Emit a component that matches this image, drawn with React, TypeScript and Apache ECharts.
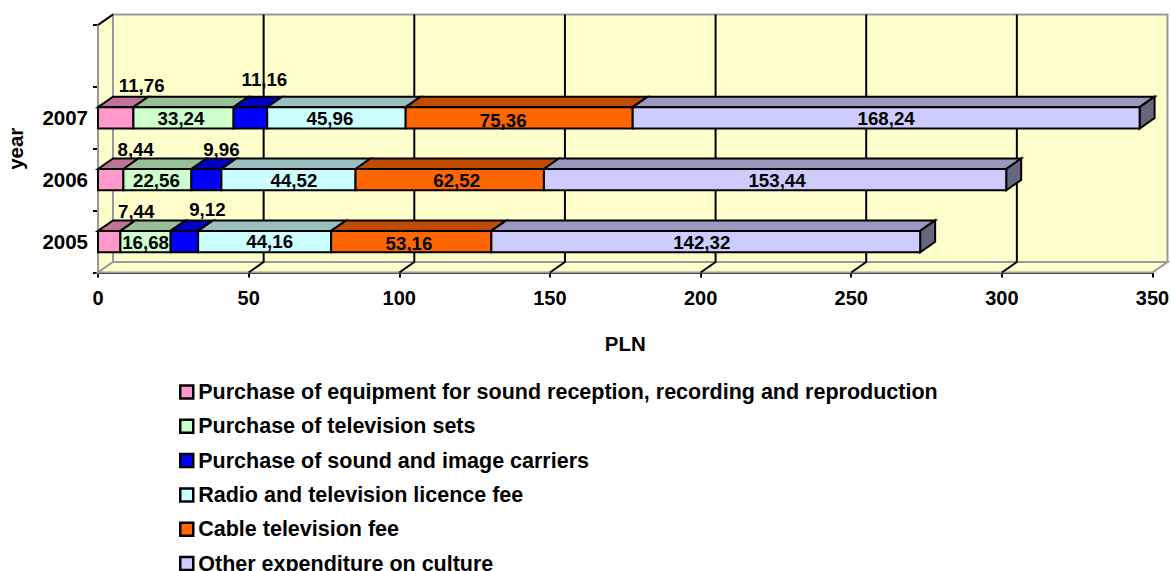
import React, { useEffect, useRef } from "react";
import * as echarts from "echarts";

const years = ["2005", "2006", "2007", ""];
const xTicks = [0, 50, 100, 150, 200, 250, 300, 350];
const seriesNames = [
  "Purchase of equipment for sound reception, recording and reproduction",
  "Purchase of television sets",
  "Purchase of sound and image carriers",
  "Radio and television licence fee",
  "Cable television fee",
  "Other expenditure on culture",
];
const equipment = [7.44, 8.44, 11.76];
const televisionSets = [16.68, 22.56, 33.24];
const carriers = [9.12, 9.96, 11.16];
const licenceFee = [44.16, 44.52, 45.96];
const cableFee = [53.16, 62.52, 75.36];
const otherCulture = [142.32, 153.44, 168.24];
const seriesValues = [equipment, televisionSets, carriers, licenceFee, cableFee, otherCulture];

const frontColors = ["#FF99CC", "#CCFFCC", "#0000FF", "#CCFFFF", "#FF6600", "#CCCCFF"];
const topColors = ["#BF7399", "#99BF99", "#0000BF", "#99BFBF", "#BF4C00", "#9999BF"];
const sideColor = "#66667F";

// hand-placed label nudges of the reference: "series-year" = [dx, dy]
const labelNudges: Record<string, [number, number]> = {
  "0-0": [27, -30],
  "0-1": [25, -30],
  "0-2": [26, -32],
  "1-0": [0, 1.3],
  "1-1": [-1, 1.2],
  "1-2": [-2.5, 0.8],
  "2-0": [23, -32],
  "2-1": [15, -30],
  "2-2": [14, -38],
  "3-0": [5, -0.5],
  "3-1": [5.5, 0.5],
  "3-2": [-6.5, 1.1],
  "4-0": [-2.3, 1.5],
  "4-1": [7, 0.9],
  "4-2": [-16, 3.1],
  "5-0": [-4, 1],
  "5-1": [2, 0.9],
  "5-2": [0, 1.1],
};

const DX = 15;
const DY = -10.5;
const FONT = '"Liberation Sans", Arial, sans-serif';
const LABEL_SIZE = 18.7;

export default function App() {
  const ref = useRef<HTMLDivElement>(null);
  useEffect(() => {
    document.body.style.margin = "0";
    const chart = echarts.init(ref.current!, undefined, { renderer: "svg" });

    const wallSeries = {
      type: "custom",
      name: "walls",
      silent: true,
      z: 1,
      data: [[0, 0]],
      renderItem: (params: any, api: any) => {
        const c = params.coordSys;
        const l = c.x, r = c.x + c.width, t = c.y, b = c.y + c.height;
        const children: any[] = [];
        const wallStyle = { fill: "#FFFFCC", stroke: "#999999", lineWidth: 2 };
        children.push({
          type: "polygon",
          shape: { points: [[l, t], [l + DX, t + DY], [l + DX, b + DY], [l, b]] },
          style: wallStyle,
        });
        children.push({
          type: "polygon",
          shape: { points: [[l, b], [l + DX, b + DY], [r + DX, b + DY], [r, b]] },
          style: wallStyle,
        });
        children.push({
          type: "rect",
          shape: { x: l + DX, y: t + DY, width: c.width, height: c.height },
          style: wallStyle,
        });
        children.push({
          type: "line",
          shape: { x1: l, y1: t, x2: l + DX, y2: t + DY },
          style: { stroke: "#000", lineWidth: 2 },
        });
        xTicks.forEach((v) => {
          if (v === 0 || v === 350) return;
          const x = api.coord([v, 0])[0];
          children.push({
            type: "polyline",
            shape: { points: [[x, b], [x + DX, b + DY], [x + DX, t + DY]] },
            style: { fill: "none", stroke: "#000", lineWidth: 2 },
          });
        });
        return { type: "group", children };
      },
    };

    const barSeries = seriesNames.map((name, si) => {
      const rows = years.slice(0, 3).map((_, yi) => {
        let start = 0;
        for (let k = 0; k < si; k++) start += seriesValues[k][yi];
        return [start, start + seriesValues[si][yi], yi, seriesValues[si][yi]];
      });
      return {
        type: "custom",
        name,
        z: 2,
        itemStyle: { color: frontColors[si] },
        encode: { x: [0, 1], y: 2 },
        data: rows,
        renderItem: (_params: any, api: any) => {
          const a = api.coord([api.value(0), api.value(2)]);
          const e = api.coord([api.value(1), api.value(2)]);
          const h = api.size([0, 1])[1] * 0.345;
          const top = a[1] - h / 2;
          const bot = a[1] + h / 2;
          const x0 = a[0];
          const x1 = e[0];
          const edge = { stroke: "#000", lineWidth: 2, lineJoin: "miter" };
          const children: any[] = [
            {
              type: "polygon",
              shape: { points: [[x0, top], [x0 + DX, top + DY], [x1 + DX, top + DY], [x1, top]] },
              style: { fill: topColors[si], ...edge },
            },
          ];
          if (si === seriesNames.length - 1) {
            children.push({
              type: "polygon",
              shape: { points: [[x1, top], [x1 + DX, top + DY], [x1 + DX, bot + DY], [x1, bot]] },
              style: { fill: sideColor, ...edge },
            });
          }
          children.push({
            type: "rect",
            shape: { x: x0, y: top, width: x1 - x0, height: bot - top },
            style: { fill: frontColors[si], ...edge },
          });
          const yi = api.value(2);
          const nudge = labelNudges[`${si}-${yi}`] || [0, 0];
          children.push({
            type: "text",
            z2: 100,
            style: {
              text: api.value(3).toFixed(2).replace(".", ","),
              x: (x0 + x1) / 2 + nudge[0],
              y: a[1] + nudge[1],
              align: "center",
              verticalAlign: "middle",
              fill: "#000",
              fontFamily: FONT,
              fontWeight: "bold",
              fontSize: LABEL_SIZE,
            },
          });
          return { type: "group", children };
        },
      };
    });

    chart.setOption({
      animation: false,
      backgroundColor: "#fff",
      textStyle: { fontFamily: FONT },
      grid: {
        left: 98,
        top: 25,
        width: 1054.5,
        height: 247.5,
        containLabel: false,
        outerBoundsMode: "none",
      },
      xAxis: {
        type: "value",
        min: 0,
        max: 350,
        interval: 50,
        name: "PLN",
        nameLocation: "middle",
        nameGap: 60,
        nameTextStyle: { fontFamily: FONT, fontWeight: "bold", fontSize: 20.5, color: "#000" },
        axisLine: { show: true, lineStyle: { color: "#000", width: 2 } },
        axisTick: { show: true, length: 5, lineStyle: { color: "#000", width: 2 } },
        axisLabel: {
          color: "#000",
          fontFamily: FONT,
          fontWeight: "bold",
          fontSize: 20,
          margin: 15,
          showMaxLabel: true,
          showMinLabel: true,
        },
        splitLine: { show: false },
      },
      yAxis: {
        type: "category",
        data: years,
        name: "year",
        nameLocation: "middle",
        nameGap: 72,
        nameRotate: 90,
        nameTextStyle: { fontFamily: FONT, fontWeight: "bold", fontSize: 20.5, color: "#000" },
        axisLine: { show: true, lineStyle: { color: "#000", width: 2 } },
        axisTick: { show: true, length: 5, lineStyle: { color: "#000", width: 2 } },
        axisLabel: {
          color: "#000",
          fontFamily: FONT,
          fontWeight: "bold",
          fontSize: 20.5,
          margin: 10,
          interval: 0,
        },
        splitLine: { show: false },
      },
      legend: {
        orient: "vertical",
        left: 174,
        top: 376,
        height: 300,
        data: seriesNames,
        icon: "rect",
        itemWidth: 13,
        itemHeight: 13,
        itemGap: 12.3,
        selectedMode: false,
        itemStyle: { borderColor: "#000", borderWidth: 2.5 },
        textStyle: {
          fontFamily: FONT,
          fontWeight: "bold",
          fontSize: 21.5,
          color: "#000",
          lineHeight: 20,
          padding: [0, 0, 0, 0],
        },
      },
      series: [wallSeries, ...barSeries],
    });
    return () => chart.dispose();
  }, []);
  return (
    <div
      ref={ref}
      style={{ position: "absolute", left: 0, top: 0, width: 1171, height: 571 }}
    />
  );
}
